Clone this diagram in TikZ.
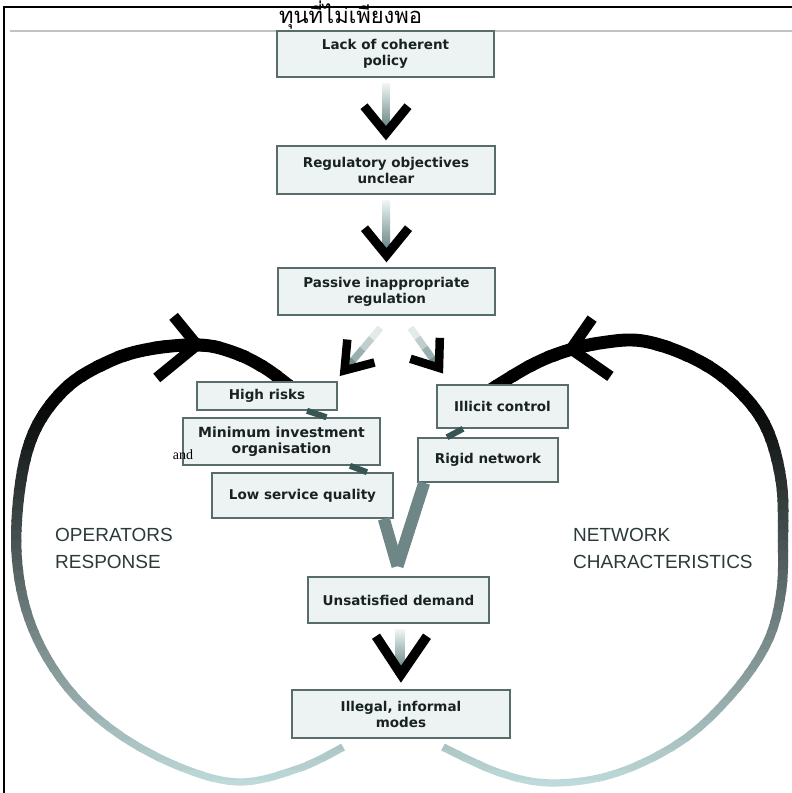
\documentclass[tikz,border=0pt]{standalone}
\usepackage{fontspec}
\setmainfont{DejaVu Sans}
\newfontfamily\capsfont{Liberation Sans}
\newfontfamily\timesfont{Liberation Serif}
\newfontfamily\thaifont[Script=Thai]{Loma}
\usetikzlibrary{calc}
\definecolor{boxfill}{RGB}{237,242,242}
\definecolor{boxline}{RGB}{88,108,108}
\definecolor{boxtext}{RGB}{24,34,34}
\definecolor{linkteal}{RGB}{55,85,85}
\definecolor{veegray}{RGB}{110,134,134}
\definecolor{stemtop}{RGB}{238,244,244}
\definecolor{stembot}{RGB}{85,118,118}
\definecolor{loopend}{RGB}{196,224,224}
\definecolor{labelgray}{RGB}{44,58,58}
\definecolor{rulegray}{RGB}{190,195,195}
\tikzset{
  box/.style={draw=boxline, line width=1.6pt, fill=boxfill, text=boxtext, align=center,
    inner sep=1pt, font=\fontsize{13.5}{16}\selectfont\bfseries},
  chevron/.style={draw=black, line width=#1, line join=miter, line cap=butt},
  link/.style={draw=linkteal, line width=6pt},
  vee/.style={draw=veegray, line width=12pt},
  side/.style={text=labelgray, align=left, inner sep=0pt, anchor=north west,
    font=\capsfont\fontsize{19}{27}\selectfont},
}
\begin{document}
\begin{tikzpicture}[x=1pt, y=-1pt]
        \useasboundingbox (0,0) rectangle (792,793);
        \fill[white] (0,0) rectangle (792,793);
        \draw[black, line width=1.2pt] (4,793) -- (4,7) -- (792,7);
        \draw[rulegray, line width=2pt] (10,31) -- (792,31);
        \node[anchor=base west, inner sep=0pt, font=\thaifont\fontsize{22}{25}\selectfont] (title) at (279,23) {ทุนที่ไม่เพียงพอ};

        \foreach \ya in {330,340,...,790}{
          \pgfmathsetmacro\c{max(0,min(100,100-(\ya-390)*0.25))}
          \pgfmathsetmacro\w{13-(\ya-330)*0.013}
          \begin{scope}
            \clip (0,\ya) rectangle (792,\ya+11);
            \draw[line width=\w pt, black!\c!loopend] plot[smooth, tension=0.6] coordinates {(343,747) (300,768) (240,782) (180,767) (117,733) (67,687) (32,627) (17,560) (20,487) (35,430) (67,387) (110,361) (150,349) (200,345) (235,353) (265,368) (292,388)};
            \draw[line width=\w pt, black!\c!loopend] plot[smooth, tension=0.6] coordinates {(443,747) (500,773) (553,783) (617,773) (683,740) (733,693) (767,643) (781,593) (783,540) (781,480) (765,425) (733,385) (693,358) (643,341) (600,343) (563,352) (530,366) (490,390)};
          \end{scope}
        }

        \node[box, minimum width=217, minimum height=46] (0) at (385.5,54) {Lack of coherent\\policy};
        \node[box, minimum width=218, minimum height=48] (1) at (386,170) {Regulatory objectives\\unclear};
        \node[box, minimum width=217, minimum height=47] (2) at (386.5,291.5) {Passive inappropriate\\regulation};
        \node[box, minimum width=140, minimum height=28] (3) at (267,396) {High risks};
        \node[box, minimum width=197, minimum height=47, font=\fontsize{14}{16.5}\selectfont\bfseries] (4) at (281.5,441.5) {Minimum investment\\organisation};
        \node[box, minimum width=181, minimum height=45] (5) at (302.5,495.5) {Low service quality};
        \node[box, minimum width=131, minimum height=43] (6) at (502.5,406.5) {Illicit control};
        \node[box, minimum width=140, minimum height=44] (7) at (488,460) {Rigid network};
        \node[box, minimum width=181, minimum height=46] (8) at (398.5,600) {Unsatisfied demand};
        \node[box, minimum width=218, minimum height=48] (9) at (401,714) {Illegal, informal\\modes};

        \node[side] (ops) at (55,528) {OPERATORS\\RESPONSE};
        \node[side] (net) at (573,528) {NETWORK\\CHARACTERISTICS};
        \node[inner sep=0pt, font=\timesfont\fontsize{14}{16}\selectfont] (and) at (183,455) {and};

        \coordinate (t1) at ($(1.north)+(0,-12)$);
        \coordinate (t2) at ($(2.north)+(0,-12)$);
        \coordinate (t3) at ($(9.north)+(0,-15)$);
        \shade[top color=stemtop, bottom color=stembot] ($(0.south)+(-3.5,6)$) rectangle ($(t1)+(3.5,0)$);
        \shade[top color=stemtop, bottom color=stembot] ($(1.south)+(-3.5,6)$) rectangle ($(t2)+(3.5,0)$);
        \shade[top color=stemtop, bottom color=stembot] ($(8.south)+(-3.5,6)$) rectangle ($(t3)+(3.5,0)$);
        \draw[chevron=9pt] ($(t1)+(-22,-27)$) -- (t1) -- ($(t1)+(22,-27)$);
        \draw[chevron=9pt] ($(t2)+(-22,-27)$) -- (t2) -- ($(t2)+(22,-27)$);
        \draw[chevron=9.5pt] ($(t3)+(-25,-38)$) -- (t3) -- ($(t3)+(26,-38)$);

        \coordinate (s4) at ($(2.south)+(-6,12)$);
        \coordinate (t4) at ($(2.south)+(-42,54.6)$);
        \coordinate (s5) at ($(2.south)+(24,12)$);
        \coordinate (t5) at ($(2.south)+(52.5,52)$);
        \foreach \a/\b/\c in {0/0.25/8, 0.25/0.5/30, 0.5/0.75/55, 0.75/0.95/80}{
          \draw[line width=7pt, stembot!\c!stemtop] ($(s4)!\a!(t4)$) -- ($(s4)!\b!(t4)$);
          \draw[line width=7pt, stembot!\c!stemtop] ($(s5)!\a!(t5)$) -- ($(s5)!\b!(t5)$);
        }
        \draw[chevron=8.5pt] ($(t4)!31pt!35:(s4)$) -- (t4) -- ($(t4)!31pt!-35:(s4)$);
        \draw[chevron=8.5pt] ($(t5)!30pt!37:(s5)$) -- (t5) -- ($(t5)!30pt!-37:(s5)$);

        \coordinate (lt) at (197,345);
        \coordinate (lb) at (147,340);
        \coordinate (rt) at (571,349);
        \coordinate (rb) at (621,340);
        \draw[chevron=11pt] ($(lt)!52pt!45:(lb)$) -- (lt) -- ($(lt)!37pt!-45:(lb)$);
        \draw[chevron=11pt] ($(rt)!37pt!45:(rb)$) -- (rt) -- ($(rt)!48pt!-45:(rb)$);

        \draw[link] ($(3.south)+(40,0)$) -- ($(4.north)+(45,0)$);
        \draw[link] ($(4.south)+(68.5,0)$) -- ($(5.north)+(64.5,0)$);
        \draw[link] ($(6.south)+(-39.5,0)$) -- ($(7.north)+(-41,0)$);

        \coordinate (apex) at ($(8.north)+(-1,-10)$);
        \draw[vee] ($(5.south east)+(-10,0)$) -- (apex);
        \draw[vee] ($(7.south west)+(7,0)$) -- (apex);
      \end{tikzpicture}
\end{document}
